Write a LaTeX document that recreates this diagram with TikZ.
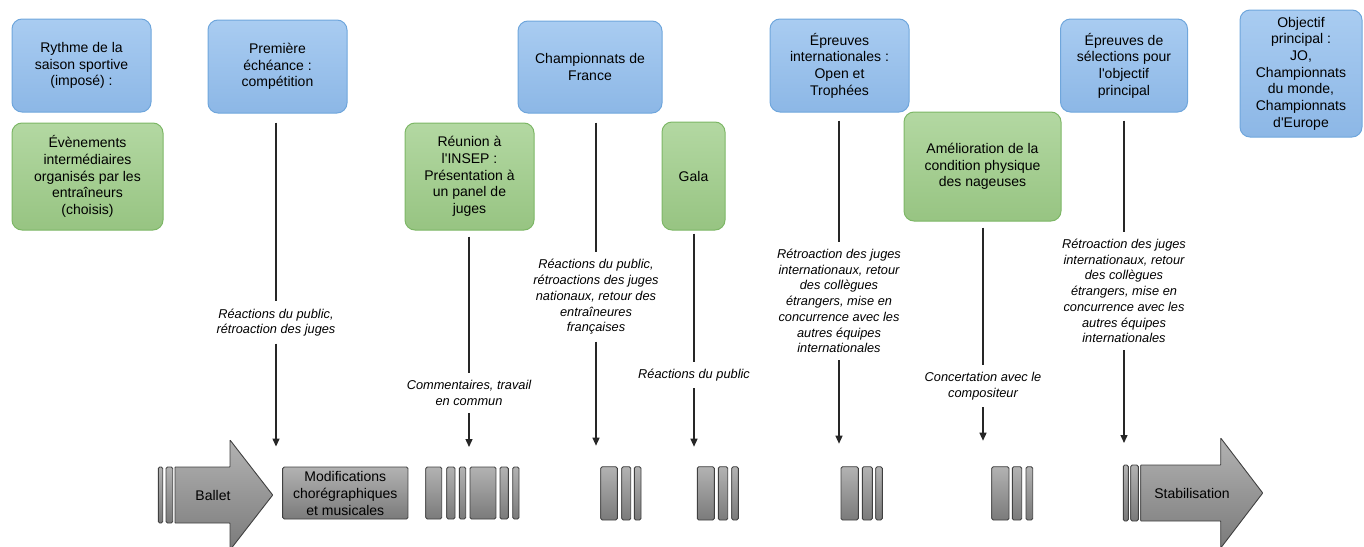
\documentclass[tikz,border=0pt]{standalone}
\usepackage{fontspec}
\setmainfont{Liberation Sans}
\usepackage{tikz}
\usetikzlibrary{arrows.meta,positioning}

\definecolor{bluetop}{HTML}{A9CCF1}
\definecolor{bluebot}{HTML}{8CB7E6}
\definecolor{blueline}{HTML}{6FA6DC}
\definecolor{greentop}{HTML}{B3D8A2}
\definecolor{greenbot}{HTML}{97C482}
\definecolor{greenline}{HTML}{7DB766}

\tikzset{
	event/.style={draw=blueline, line width=1pt, rounded corners=10pt, top color=bluetop, bottom color=bluebot, align=center, inner sep=0pt, font=\fontsize{14}{16.7}\selectfont},
	choice/.style={event, draw=greenline, top color=greentop, bottom color=greenbot},
	feedback/.style={align=center, inner sep=7pt, font=\fontsize{12.8}{15.7}\selectfont\itshape},
	bar/.style={draw=black!75, line width=0.9pt, rounded corners=1.5pt, line join=round, top color=black!30, bottom color=black!52},
	link/.style={line width=1.3pt, draw=black!85},
	linkarrow/.style={link, -{Triangle[width=7pt,length=8pt]}, shorten >=20pt},
}

\begin{document}
\begin{tikzpicture}[x=1pt, y=-1pt]
	\useasboundingbox (0,0) rectangle (1364,546);

	% top row: imposed season events
	\node[event, minimum width=139, minimum height=93] (rythme) at (81.5,65.5) {Rythme de la\\saison sportive\\(imposé) :};
	\node[event, minimum width=139, minimum height=93] (premiere) at (277.5,66.5) {Première\\échéance :\\compétition};
	\node[event, minimum width=144, minimum height=92] (champ) at (590,67) {Championnats de\\France};
	\node[event, minimum width=139, minimum height=93] (intl) at (839.5,65.5) {Épreuves\\internationales :\\Open et\\Trophées};
	\node[event, minimum width=127, minimum height=93] (selection) at (1124,65.5) {Épreuves de\\sélections pour\\l\textquotesingle objectif\\principal};
	\node[event, minimum width=122, minimum height=127] (objectif) at (1301,73.5) {Objectif\\principal :\\JO,\\Championnats\\du monde,\\Championnats\\d\textquotesingle Europe};

	% second row: chosen events
	\node[choice, minimum width=151, minimum height=107] (evenements) at (87.5,176.5) {Évènements\\intermédiaires\\organisés par les\\entraîneurs\\(choisis)};
	\node[choice, minimum width=129, minimum height=107] (reunion) at (469.5,176.5) {Réunion à\\l\textquotesingle INSEP :\\Présentation à\\un panel de\\juges};
	\node[choice, minimum width=63, minimum height=108] (gala) at (693.5,176) {Gala};
	\node[choice, minimum width=157, minimum height=109] (physique) at (982.5,166.5) {Amélioration de la\\condition physique\\des nageuses};

	% feedback labels
	\node[feedback] (fb1) at (276,322.5) {Réactions du public,\\rétroaction des juges};
	\node[feedback] (fb2) at (469,393) {Commentaires, travail\\en commun};
	\node[feedback] (fb3) at (596,297) {Réactions du public,\\rétroactions des juges\\nationaux, retour des\\entraîneures\\françaises};
	\node[feedback] (fb4) at (694,375) {Réactions du public};
	\node[feedback] (fb5) at (839,301) {Rétroaction des juges\\internationaux, retour\\des collègues\\étrangers, mise en\\concurrence avec les\\autres équipes\\internationales};
	\node[feedback] (fb6) at (983,386) {Concertation avec le\\compositeur};
	\node[feedback] (fb7) at (1124,291) {Rétroaction des juges\\internationaux, retour\\des collègues\\étrangers, mise en\\concurrence avec les\\autres équipes\\internationales};

	% bottom: ballet timeline
	\draw[bar] (158.3,467) rectangle (162.7,523);
	\draw[bar] (166,467) rectangle (172.7,523);
	\draw[bar, rounded corners=0.5pt] (175,467) -- (230,467) -- (230,440) -- (272.7,495) -- (230,550) -- (230,523) -- (175,523) -- cycle;
	\node[font=\fontsize{14}{16.7}\selectfont] (ballet) at (213,495) {Ballet};

	\node[bar, minimum width=125.3, minimum height=52, inner sep=0pt, align=center, font=\fontsize{14}{17}\selectfont] (modif) at (345.3,493) {Modifications\\chorégraphiques\\et musicales};

	\foreach \a/\b in {425.7/441.7, 446.7/455, 459.3/465.7, 470/496, 500/508.3, 512.7/519}
		\draw[bar] (\a,467) rectangle (\b,519);
	\foreach \a/\b in {600.7/617.3, 621.7/630.7, 634.3/641, 697.3/714.3, 718.3/727.7, 731.7/738.3, 841/858.3, 862.3/872.3, 875.7/882.3, 991.7/1009, 1012.3/1021.7, 1026/1032.7}
		\draw[bar] (\a,466.7) rectangle (\b,520);

	\draw[bar] (1123.3,465) rectangle (1128.3,521);
	\draw[bar] (1130.7,465) rectangle (1138.3,521);
	\draw[bar, rounded corners=0.5pt] (1140.7,465) -- (1220.7,465) -- (1220.7,438) -- (1262.7,493) -- (1220.7,548) -- (1220.7,521) -- (1140.7,521) -- cycle;
	\node[font=\fontsize{14}{16.7}\selectfont] (stab) at (1192,493) {Stabilisation};

	\coordinate (grp2) at (469,467);
	\coordinate (grp3) at (596,466.7);
	\coordinate (grp4) at (694,466.7);
	\coordinate (grp5) at (839,466.7);
	\coordinate (grp6) at (983,466.7);
	\coordinate (grp7) at (1124,465);

	% connectors
	\draw[link, shorten <=9pt] (fb1 |- premiere.south) -- (fb1);
	\draw[linkarrow] (fb1) -- (fb1 |- modif.north);
	\draw[link, shorten <=6pt] (fb2 |- reunion.south) -- (fb2);
	\draw[linkarrow] (fb2) -- (grp2);
	\draw[link, shorten <=9pt] (fb3 |- champ.south) -- (fb3);
	\draw[linkarrow, shorten >=21pt] (fb3) -- (grp3);
	\draw[link, shorten <=3pt] (fb4 |- gala.south) -- (fb4);
	\draw[linkarrow] (fb4) -- (grp4);
	\draw[link, shorten <=8pt] (fb5 |- intl.south) -- (fb5);
	\draw[linkarrow, shorten >=23pt] (fb5) -- (grp5);
	\draw[link, shorten <=6pt] (fb6 |- physique.south) -- (fb6);
	\draw[linkarrow, shorten >=26pt] (fb6) -- (grp6);
	\draw[link, shorten <=8pt] (fb7 |- selection.south) -- (fb7);
	\draw[linkarrow, shorten >=22pt] (fb7) -- (grp7);
\end{tikzpicture}
\end{document}
